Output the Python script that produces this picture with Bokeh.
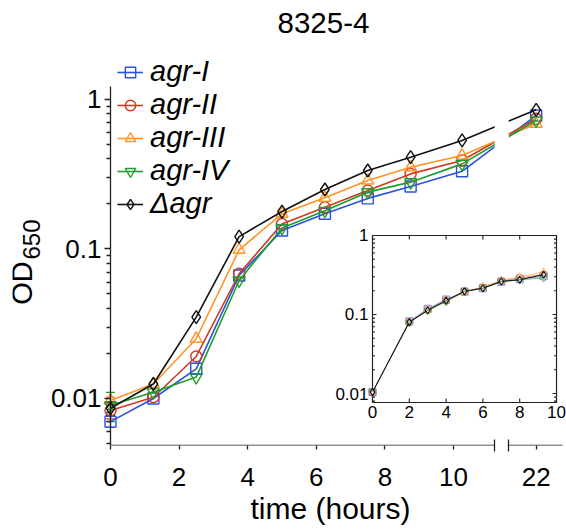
import numpy as np
from bokeh.plotting import figure
from bokeh.models import (Range1d, LinearAxis, FixedTicker, CustomJSTickFormatter, Legend,
                          LegendItem, LogScale, Whisker, TeeHead, ColumnDataSource, Title)
from bokeh.core.properties import value
from bokeh.embed import file_html
from bokeh.resources import INLINE

# ---------------- data ----------------
strains = ["agr-I", "agr-II", "agr-III", "agr-IV", "\u0394agr"]
time_h = [0, 1.25, 2.5, 3.75, 5.0, 6.25, 7.5, 8.75, 10.25, 22]
od_agr_I = [0.0070, 0.0100, 0.0158, 0.0665, 0.133, 0.172, 0.218, 0.262, 0.331, 0.782]
od_agr_II = [0.0083, 0.0102, 0.0191, 0.0683, 0.147, 0.190, 0.246, 0.318, 0.391, 0.743]
od_agr_III = [0.0097, 0.0125, 0.0251, 0.0988, 0.172, 0.220, 0.287, 0.352, 0.422, 0.688]
od_agr_IV = [0.0090, 0.0110, 0.0139, 0.0616, 0.138, 0.180, 0.240, 0.280, 0.371, 0.724]
od_delta_agr = [0.0086, 0.0125, 0.0350, 0.121, 0.178, 0.250, 0.335, 0.411, 0.532, 0.853]
od_t0_err = [0.0006, 0.0010, 0.0005, 0.0020, 0.0009]

inset_time = [0, 2, 3, 4, 5, 6, 7, 8, 9.3]
inset_agr_I = [0.0104, 0.082, 0.118, 0.155, 0.195, 0.215, 0.260, 0.280, 0.305]
inset_agr_II = [0.0104, 0.080, 0.115, 0.150, 0.195, 0.220, 0.265, 0.290, 0.320]
inset_agr_III = [0.0104, 0.080, 0.113, 0.152, 0.190, 0.225, 0.270, 0.300, 0.345]
inset_agr_IV = [0.0104, 0.079, 0.112, 0.145, 0.195, 0.215, 0.260, 0.275, 0.290]
inset_delta_agr = [0.0104, 0.080, 0.113, 0.150, 0.197, 0.215, 0.262, 0.275, 0.320]

main_xticks = [0, 2, 4, 6, 8, 10, 22]
main_yticks = [0.01, 0.1, 1]
main_ytick_labels = ["0.01", "0.1", "1"]
inset_xticks = [0, 2, 4, 6, 8, 10]
inset_xtick_labels = ["0", "2", "4", "6", "8", "10"]
inset_yticks = [0.01, 0.1, 1]
inset_ytick_labels = ["0.01", "0.1", "1"]

main_series = [od_agr_I, od_agr_II, od_agr_III, od_agr_IV, od_delta_agr]
inset_series = [inset_agr_I, inset_agr_II, inset_agr_III, inset_agr_IV, inset_delta_agr]

# ---------------- styles / layout ----------------
colors = ["#2a52e0", "#cc3a22", "#ff9424", "#1f9e2c", "#111111"]
markers = ["square", "circle", "triangle", "inverted_triangle", "diamond"]
msizes = [11, 11, 12, 12, 13]
FONT = "Liberation Sans"
AX = "#222222"

BREAK_LO, BREAK_HI, GAP = 11.2, 21.2, 0.41
X0, X1 = -2.857, 13.294
X_AXIS_END = 13.18
Y0, Y1 = 0.004848, 2.4809
Y_AXIS_TOP = 1.222
IX0, IX1 = -19.565, 10.543
IY0, IY1 = 0.002197, 293.9
INSET_BOTTOM = 0.00769


def tx(t):
    return t if t <= BREAK_LO else t - (BREAK_HI - BREAK_LO) + GAP


p = figure(width=566, height=529, x_range=Range1d(X0, X1), y_range=Range1d(Y0, Y1),
           y_axis_type="log", x_axis_location=None, y_axis_location=None,
           toolbar_location=None, output_backend="svg",
           min_border_left=12, min_border_right=0, min_border_top=40, min_border_bottom=84)
p.outline_line_color = None
p.grid.grid_line_color = None
p.background_fill_color = "white"

p.title.text = "8325-4"
p.title.align = "left"
p.title.offset = 265
p.title.vertical_align = "top"
p.title.text_font = FONT
p.title.text_font_size = "29.5px"
p.title.text_font_style = "normal"
p.title.text_color = "black"
p.title.standoff = 12

# y axis at x = 0: line + minor ticks, and a second one for the longer decade ticks
y_minor = [m * d for d in (0.001, 0.01, 0.1) for m in range(2, 10) if Y0 < m * d < Y_AXIS_TOP]
for mt, length, line_col in [(y_minor, 4, AX), (main_yticks, 6, None)]:
    ax = LinearAxis(fixed_location=0, bounds=(Y0, Y_AXIS_TOP),
                    ticker=FixedTicker(ticks=[], minor_ticks=mt),
                    axis_line_color=line_col, axis_line_width=1.3,
                    major_tick_in=0, major_tick_out=0, minor_tick_in=0, minor_tick_out=length,
                    minor_tick_line_color=AX, minor_tick_line_width=1.3,
                    major_label_standoff=0, axis_label_standoff=0)
    p.add_layout(ax, "left")
p.text(x=[0] * len(main_yticks), y=main_yticks, text=main_ytick_labels, x_offset=-9,
       text_align="right", text_baseline="middle", text_font=value(FONT),
       text_font_size="26px", text_color="black")
p.text(x=[-2.580], y=[0.0592], text=["OD"], angle=np.pi / 2, text_align="center",
       text_baseline="middle", text_font=value(FONT), text_font_size="29px", text_color="black")
p.text(x=[-2.303], y=[0.1158], text=["650"], angle=np.pi / 2, text_align="center",
       text_baseline="middle", text_font=value(FONT), text_font_size="24px", text_color="black")

# x axis (ticks + labels), line drawn by two bounded segments
xax = LinearAxis(bounds=(0, X_AXIS_END),
                 ticker=FixedTicker(ticks=[tx(t) for t in main_xticks],
                                    minor_ticks=[BREAK_LO, BREAK_LO + GAP]),
                 formatter=CustomJSTickFormatter(args=dict(lo=BREAK_LO, shift=BREAK_HI - BREAK_LO - GAP),
                                                 code="return String(Math.round(tick > lo ? tick + shift : tick))"),
                 axis_line_color=None,
                 major_tick_in=0, major_tick_out=4, minor_tick_in=6, minor_tick_out=6,
                 major_tick_line_color=AX, minor_tick_line_color=AX,
                 major_tick_line_width=1.3, minor_tick_line_width=1.3,
                 major_label_text_font=FONT, major_label_text_font_size="26px",
                 major_label_text_color="black", major_label_standoff=16)
p.add_layout(xax, "below")
for lo, hi in [(0, BREAK_LO), (BREAK_LO + GAP, X_AXIS_END)]:
    seg = LinearAxis(fixed_location=Y0, bounds=(lo, hi), ticker=FixedTicker(ticks=[]),
                     major_tick_in=0, major_tick_out=0, minor_tick_in=0, minor_tick_out=0,
                     major_label_standoff=0, axis_label_standoff=0,
                     axis_line_color=AX, axis_line_width=1.3)
    p.add_layout(seg, "below")
p.add_layout(Title(text="time (hours)", align="left", offset=238, vertical_align="top",
                   standoff=6, text_font=FONT, text_font_size="30px",
                   text_font_style="normal", text_color="black"), "below")

# main series
items = []
for name, vals, c, m, s, e in zip(strains, main_series, colors, markers, msizes, od_t0_err):
    src = ColumnDataSource(dict(x=[tx(t) for t in time_h], y=vals))
    lr = p.line("x", "y", source=src, line_color=c, line_width=1.6)
    sr = p.scatter("x", "y", source=src, marker=m, size=s, line_color=c,
                   fill_color=None, line_width=1.4)
    wsrc = ColumnDataSource(dict(x=[tx(time_h[0])], lo=[vals[0] - e], hi=[vals[0] + e]))
    p.add_layout(Whisker(source=wsrc, base="x", lower="lo", upper="hi", dimension="height",
                         line_color=c, line_width=1.2,
                         upper_head=TeeHead(size=9, line_color=c, line_width=1.2),
                         lower_head=TeeHead(size=9, line_color=c, line_width=1.2)))
    items.append(LegendItem(label=name, renderers=[lr, sr]))

# blank the axis-break region of the connecting lines
p.quad(left=[BREAK_LO], right=[BREAK_LO + GAP], bottom=[0.2], top=[Y1],
       fill_color="white", line_color=None)

legend = Legend(items=items, location=(105, 225), orientation="vertical",
                label_text_font=FONT, label_text_font_style="italic",
                label_text_font_size="29px", label_text_color="black",
                glyph_width=26, glyph_height=26, label_height=26, label_standoff=7,
                spacing=0, padding=0, margin=0,
                background_fill_alpha=0, border_line_alpha=0)
p.add_layout(legend)

# ---------------- inset ----------------
p.extra_x_ranges = {"ix": Range1d(IX0, IX1)}
p.extra_y_ranges = {"iy": Range1d(IY0, IY1)}
p.extra_y_scales = {"iy": LogScale()}
kw = dict(x_range_name="ix", y_range_name="iy")

p.quad(left=[0], right=[inset_xticks[-1]], bottom=[INSET_BOTTOM], top=[inset_yticks[-1]],
       fill_color="white", line_color=AX, line_width=1.2, **kw)
tick_kw = dict(length_units="screen", line_color=AX, line_width=1.1, **kw)
n = len(inset_xticks)
p.ray(x=inset_xticks, y=[INSET_BOTTOM] * n, length=4, angle=np.pi / 2, **tick_kw)
p.ray(x=inset_xticks, y=[inset_yticks[-1]] * n, length=4, angle=-np.pi / 2, **tick_kw)
iy_minor = [m * d for d in (0.001, 0.01, 0.1) for m in range(2, 10) if INSET_BOTTOM < m * d < 1]
for xe, ang in [(0, 0.0), (inset_xticks[-1], np.pi)]:
    p.ray(x=[xe] * len(inset_yticks), y=inset_yticks, length=4, angle=ang, **tick_kw)
    p.ray(x=[xe] * len(iy_minor), y=iy_minor, length=2.5, angle=ang, **tick_kw)

p.text(x=inset_xticks, y=[INSET_BOTTOM] * n, text=inset_xtick_labels, text_align="center",
       text_baseline="top", y_offset=3, text_font=value(FONT), text_font_size="17px",
       text_color="black", **kw)
p.text(x=[0] * len(inset_yticks), y=inset_yticks, text=inset_ytick_labels, text_align="right",
       text_baseline="middle", x_offset=-4, text_font=value(FONT), text_font_size="17px",
       text_color="black", **kw)

for vals, c, m in zip(inset_series, colors, markers):
    a = 1.0 if c == "#111111" else 0.6
    p.line(inset_time, vals, line_color=c, line_width=1.0, line_alpha=a, **kw)
    p.scatter(inset_time, vals, marker=m, size=7, line_color=c, line_alpha=a,
              fill_color="white", fill_alpha=0.4, line_width=1.1, **kw)

open("out.html", "w").write(file_html(p, INLINE))
